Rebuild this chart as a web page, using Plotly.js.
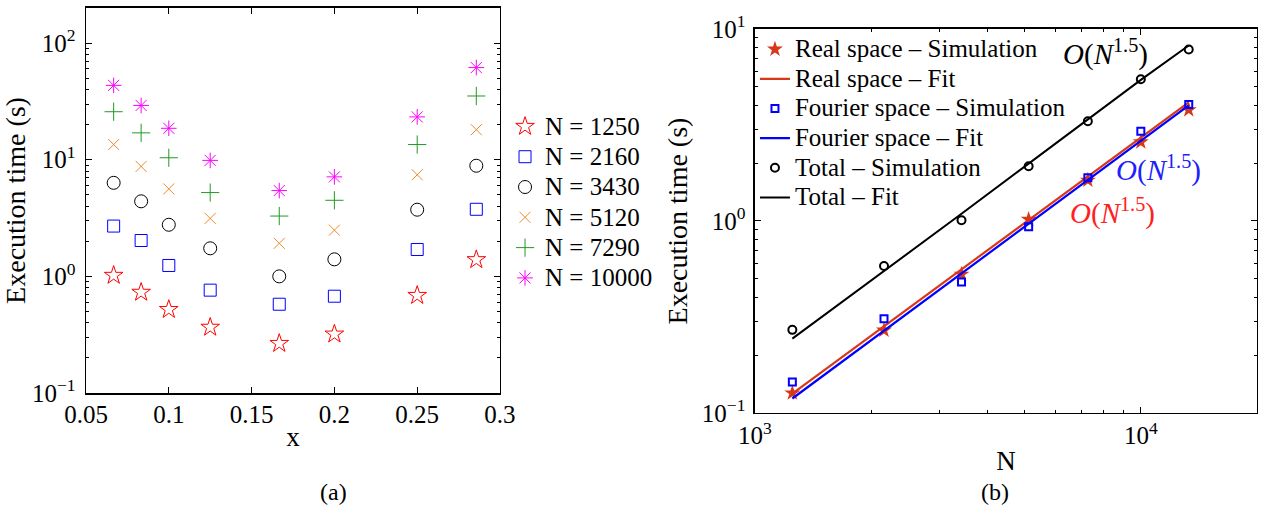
<!DOCTYPE html>
<html>
<head>
<meta charset="utf-8">
<script src="https://cdn.plot.ly/plotly-3.0.1.min.js"></script>
<style>html,body{margin:0;padding:0;background:#fff;}#chart{width:1261px;height:506px;}</style>
</head>
<body>
<div id="chart"></div>
<script>
// ---- Panel (a): execution time vs x for several N ----
var xVals = [0.0667, 0.0833, 0.1, 0.125, 0.1667, 0.2, 0.25, 0.2857];
var seriesNames = ["N = 1250", "N = 2160", "N = 3430", "N = 5120", "N = 7290", "N = 10000"];
var t1250  = [1.02, 0.73, 0.52, 0.366, 0.266, 0.32, 0.686, 1.39];
var t2160  = [2.70, 2.03, 1.24, 0.762, 0.577, 0.676, 1.70, 3.76];
var t3430  = [6.34, 4.40, 2.77, 1.74, 1.00, 1.40, 3.73, 8.88];
var t5120  = [13.5, 8.77, 5.62, 3.14, 1.92, 2.49, 7.43, 18.1];
var t7290  = [25.8, 17.0, 10.4, 5.23, 3.29, 4.49, 13.5, 35.2];
var t10000 = [43.4, 29.2, 18.6, 9.87, 5.44, 7.13, 23.3, 61.7];

// ---- Panel (b): execution time vs N ----
var nVals      = [1250, 2160, 3430, 5120, 7290, 10000, 13310];
var realSim    = [0.127, 0.270, 0.528, 1.02, 1.63, 2.58, 3.79];
var realFit    = [0.126, 0.282, 0.56, 1.01, 1.70, 2.72, 4.15];
var fourierSim = [0.145, 0.310, 0.481, 0.934, 1.68, 2.93, 4.04];
var fourierFit = [0.119, 0.268, 0.53, 0.97, 1.64, 2.62, 4.0];
var totalSim   = [0.271, 0.583, 1.01, 1.93, 3.31, 5.47, 7.82];
var totalFit   = [0.244, 0.548, 1.09, 1.99, 3.38, 5.43, 8.2];
var rightNames = ["Real space – Simulation", "Real space – Fit", "Fourier space – Simulation",
                  "Fourier space – Fit", "Total – Simulation", "Total – Fit"];

var FONT = "Liberation Serif, Times New Roman, serif";
var RED2 = "#d8381a";

function lt(s){ return '<span style="font-size:25px">' + s + '</span>'; }

var leftStyles = [
  {symbol: "star-open", size: 14, color: "#ff0000"},
  {symbol: "square-open", size: 12, color: "#0000ff"},
  {symbol: "circle-open", size: 13, color: "#000000"},
  {symbol: "x-thin-open", size: 11, color: "#ee8a2a"},
  {symbol: "cross-thin-open", size: 13, color: "#229922"},
  {symbol: "asterisk-open", size: 13, color: "#ff00ff"}
];
var leftData = [t1250, t2160, t3430, t5120, t7290, t10000];

var traces = [];
leftData.forEach(function(ys, i){
  var st = leftStyles[i];
  traces.push({
    type: "scatter", mode: "markers", x: xVals, y: ys, name: lt(seriesNames[i]),
    xaxis: "x", yaxis: "y", legend: "legend2",
    marker: {symbol: st.symbol, size: st.size, color: st.color, line: {color: st.color, width: 1}}
  });
});

traces.push({type: "scatter", mode: "markers", x: nVals, y: realSim, name: lt(rightNames[0]),
  xaxis: "x2", yaxis: "y2", legend: "legend",
  marker: {symbol: "star", size: 12, color: RED2, line: {width: 0}}});
traces.push({type: "scatter", mode: "lines", x: nVals, y: realFit, name: lt(rightNames[1]),
  xaxis: "x2", yaxis: "y2", legend: "legend",
  line: {color: RED2, width: 2.2}});
traces.push({type: "scatter", mode: "markers", x: nVals, y: fourierSim, name: lt(rightNames[2]),
  xaxis: "x2", yaxis: "y2", legend: "legend",
  marker: {symbol: "square-open", size: 7, color: "#0000ff", line: {color: "#0000ff", width: 2}}});
traces.push({type: "scatter", mode: "lines", x: nVals, y: fourierFit, name: lt(rightNames[3]),
  xaxis: "x2", yaxis: "y2", legend: "legend",
  line: {color: "#0000ff", width: 2.2}});
traces.push({type: "scatter", mode: "markers", x: nVals, y: totalSim, name: lt(rightNames[4]),
  xaxis: "x2", yaxis: "y2", legend: "legend",
  marker: {symbol: "circle-open", size: 8, color: "#000000", line: {color: "#000000", width: 2}}});
traces.push({type: "scatter", mode: "lines", x: nVals, y: totalFit, name: lt(rightNames[5]),
  xaxis: "x2", yaxis: "y2", legend: "legend",
  line: {color: "#000000", width: 2}});

var tickFont = {family: FONT, size: 25, color: "#000"};
var axCommon = {
  showline: true, linecolor: "#000", linewidth: 1.5, mirror: "ticks",
  ticks: "inside", ticklen: 6, tickwidth: 1, tickcolor: "#000",
  showgrid: false, zeroline: false, tickfont: tickFont
};
function merge(a, b){ var o = {}; for (var k in a) o[k] = a[k]; for (var k2 in b) o[k2] = b[k2]; return o; }

var minorY1 = [0.2,0.3,0.4,0.5,0.6,0.7,0.8,0.9,2,3,4,5,6,7,8,9,20,30,40,50,60,70,80,90,200];
var minorY2 = [0.2,0.3,0.4,0.5,0.6,0.7,0.8,0.9,2,3,4,5,6,7,8,9];
var minorX2 = [2000,3000,4000,5000,6000,7000,8000,9000,20000];

var layout = {
  width: 1261, height: 506,
  margin: {l: 0, r: 0, t: 0, b: 0},
  paper_bgcolor: "#fff", plot_bgcolor: "#fff",
  font: {family: FONT, color: "#000", size: 22},
  showlegend: true,
  xaxis: merge(axCommon, {
    domain: [0.0682, 0.3965], range: [0.05, 0.3], anchor: "y",
    tickmode: "array", tickvals: [0.05, 0.1, 0.15, 0.2, 0.25, 0.3],
    ticktext: ["0.05", "0.1", "0.15", "0.2", "0.25", "0.3"],
    ticklabelstandoff: -2,
    title: {text: "x", font: {family: FONT, size: 27}, standoff: 0}
  }),
  yaxis: merge(axCommon, {
    domain: [0.2233, 0.9842], type: "log", range: [-1, 2.301], anchor: "x",
    tickmode: "array", tickvals: [0.1, 1, 10, 100],
    ticktext: ["10<sup>−1</sup>", "10<sup>0</sup>", "10<sup>1</sup>", "10<sup>2</sup>"],
    ticklabelstandoff: 4,
    minor: {tickmode: "array", tickvals: minorY1, ticks: "inside", ticklen: 3, tickcolor: "#000", showgrid: false},
    title: {text: "Execution time (s)", font: {family: FONT, size: 28}, standoff: 2}
  }),
  xaxis2: merge(axCommon, {
    domain: [0.5987, 0.9968], type: "log", range: [3, 4.301], anchor: "y2",
    tickmode: "array", tickvals: [1000, 10000],
    ticktext: ["10<sup>3</sup>", "10<sup>4</sup>"],
    minor: {tickmode: "array", tickvals: minorX2, ticks: "inside", ticklen: 3, tickcolor: "#000", showgrid: false},
    title: {text: "N", font: {family: FONT, size: 27}, standoff: 2}
  }),
  yaxis2: merge(axCommon, {
    domain: [0.1838, 0.9427], type: "log", range: [-1, 1], anchor: "x2",
    tickmode: "array", tickvals: [0.1, 1, 10],
    ticktext: ["10<sup>−1</sup>", "10<sup>0</sup>", "10<sup>1</sup>"],
    ticklabelstandoff: 3,
    minor: {tickmode: "array", tickvals: minorY2, ticks: "inside", ticklen: 3, tickcolor: "#000", showgrid: false},
    title: {text: "Execution time (s)", font: {family: FONT, size: 28}, standoff: 6}
  }),
  legend: {
    x: 0.5987, y: 0.942, xanchor: "left", yanchor: "top",
    bgcolor: "rgba(0,0,0,0)", borderwidth: 0, font: {family: FONT, size: 20.5, color: "#000"},
    tracegroupgap: 0
  },
  legend2: {
    x: 0.4005, y: 0.79, xanchor: "left", yanchor: "top",
    bgcolor: "rgba(0,0,0,0)", borderwidth: 0, font: {family: FONT, size: 21, color: "#000"},
    tracegroupgap: 0
  },
  annotations: [
    {xref: "x2", yref: "y2", x: 3.909, y: 0.880, showarrow: false, xanchor: "center", yanchor: "middle",
     text: "<i>O</i>(<i>N</i><sup>1.5</sup>)", font: {family: FONT, size: 29, color: "#000"}},
    {xref: "x2", yref: "y2", x: 4.047, y: 0.276, showarrow: false, xanchor: "center", yanchor: "middle",
     text: "<i>O</i>(<i>N</i><sup>1.5</sup>)", font: {family: FONT, size: 29, color: "#2020ff"}},
    {xref: "x2", yref: "y2", x: 3.927, y: 0.047, showarrow: false, xanchor: "center", yanchor: "middle",
     text: "<i>O</i>(<i>N</i><sup>1.5</sup>)", font: {family: FONT, size: 29, color: "#ff2020"}},
    {xref: "paper", yref: "paper", x: 333/1261, y: 1 - 492/506, showarrow: false, xanchor: "center", yanchor: "middle",
     text: "(a)", font: {family: FONT, size: 24, color: "#000"}},
    {xref: "paper", yref: "paper", x: 995/1261, y: 1 - 492/506, showarrow: false, xanchor: "center", yanchor: "middle",
     text: "(b)", font: {family: FONT, size: 24, color: "#000"}}
  ]
};

Plotly.newPlot("chart", traces, layout, {staticPlot: true, displayModeBar: false});
</script>
</body>
</html>
